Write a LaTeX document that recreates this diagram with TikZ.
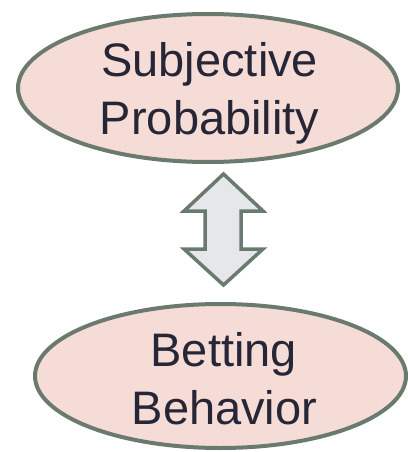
\documentclass[tikz,border=0pt]{standalone}
\usepackage{fontspec}
\setmainfont{Liberation Sans}
\usetikzlibrary{shapes.geometric}
\definecolor{edgegreen}{HTML}{6B7A6E}
\definecolor{pinkfill}{HTML}{F5DCD7}
\definecolor{arrowfill}{HTML}{E6E7EB}
\definecolor{textnavy}{HTML}{262636}
\tikzset{
  bubble/.style={ellipse, draw=edgegreen, fill=pinkfill, line width=4pt, inner sep=0pt},
  label text/.style={anchor=base, inner sep=0pt, text=textnavy,
    font=\fontsize{47}{57.5}\selectfont},
  blockarrow/.style={draw=edgegreen, fill=arrowfill, line width=3.5pt, line join=miter}
}
\begin{document}
\begin{tikzpicture}[x=1pt,y=-1pt]
\useasboundingbox (0,0) rectangle (407,452);
\node[bubble, minimum width=380pt, minimum height=148pt] (sp) at (208,88) {};
\node[label text] (sp1) at (209.7,76.7) {Subjective};
\node[label text] (sp2) at (209.7,134) {Probability};
\node[bubble, minimum width=371pt, minimum height=144pt] (bb) at (220.5,376) {};
\node[label text] (bb1) at (223.8,366.7) {Betting};
\node[label text] (bb2) at (224.5,424) {Behavior};
\coordinate (atop) at (223.5,174);
\coordinate (abot) at (223.5,285);
\draw[blockarrow] (atop) -- (263,211) -- (241,211) -- (241,249) -- (263,249)
  -- (abot) -- (184,249) -- (205,249) -- (205,211) -- (184,211) -- cycle;
\end{tikzpicture}
\end{document}
